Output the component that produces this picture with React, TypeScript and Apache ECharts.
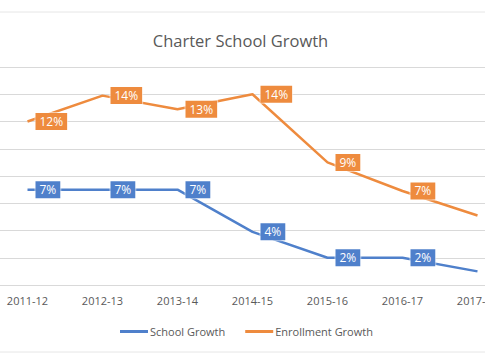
import React, { useEffect, useRef } from "react";
import * as echarts from "echarts";

const categories = ["2011-12", "2012-13", "2013-14", "2014-15", "2015-16", "2016-17", "2017-18"];
const schoolGrowth = [7.0, 7.0, 7.0, 3.9, 2.0, 2.0, 1.0];
const enrollmentGrowth = [12.0, 13.9, 12.9, 14.0, 9.0, 6.9, 5.1];
const seriesNames = ["School Growth", "Enrollment Growth"];
const blue = "#4F80CB";
const orange = "#EE8B3E";
const font = "'Open Sans', sans-serif";
const OFFSET = 10; // inner chart is shifted left so the plot area is cropped as in the reference

function makeLabel(color: string) {
  return {
    show: true,
    position: "right",
    distance: 8,
    formatter: (p: any) => Math.round(p.value) + "%",
    color: "#ffffff",
    fontSize: 12,
    fontFamily: font,
    backgroundColor: color,
    borderColor: "rgba(255,255,255,0.55)",
    borderWidth: 1,
    padding: [3, 4, 2, 4],
  };
}

export default function App() {
  const ref = useRef<HTMLDivElement>(null);
  useEffect(() => {
    if (!ref.current) return;
    const chart = echarts.init(ref.current, null, { renderer: "svg" });
    chart.setOption({
      animation: false,
      backgroundColor: "#ffffff",
      legend: {
        data: seriesNames,
        top: 326,
        left: 120 + OFFSET,
        padding: 0,
        icon: "rect",
        itemWidth: 28,
        itemHeight: 3,
        itemGap: 20,
        textStyle: { color: "#595959", fontSize: 11, fontFamily: font, padding: [0, 0, 0, -3] },
      },
      grid: { left: 0, right: 0, top: 67, bottom: 75 },
      xAxis: {
        type: "category",
        data: categories,
        boundaryGap: true,
        axisLine: { lineStyle: { color: "#d9d9d9", width: 1 } },
        axisTick: { show: false },
        axisLabel: { color: "#595959", fontSize: 11, fontFamily: font, margin: 10 },
      },
      yAxis: {
        type: "value",
        min: 0,
        max: 16,
        interval: 2,
        axisLabel: { show: false },
        axisLine: { show: false },
        axisTick: { show: false },
        splitLine: { lineStyle: { color: "#d9d9d9", width: 1 } },
      },
      graphic: [
        { type: "line", shape: { x1: 0, y1: 12, x2: 525, y2: 12 }, style: { stroke: "#e6e6e6", lineWidth: 1 } },
        { type: "line", shape: { x1: 0, y1: 352, x2: 525, y2: 352 }, style: { stroke: "#e6e6e6", lineWidth: 1 } },
        {
          type: "text",
          x: 240.5 + OFFSET,
          y: 40,
          style: {
            text: "Charter School Growth",
            fill: "#595959",
            fontSize: 16.5,
            fontFamily: font,
            textAlign: "center",
            textVerticalAlign: "middle",
          },
        },
      ],
      series: [
        {
          name: seriesNames[0],
          type: "line",
          data: schoolGrowth,
          color: blue,
          showSymbol: true,
          symbol: "circle",
          symbolSize: 0,
          lineStyle: { color: blue, width: 2.5 },
          label: makeLabel(blue),
          z: 3,
        },
        {
          name: seriesNames[1],
          type: "line",
          data: enrollmentGrowth,
          color: orange,
          showSymbol: true,
          symbol: "circle",
          symbolSize: 0,
          lineStyle: { color: orange, width: 2.5 },
          label: makeLabel(orange),
          z: 3,
        },
      ],
    });
    return () => chart.dispose();
  }, []);
  return (
    <div style={{ position: "fixed", left: 0, top: 0, width: 485, height: 360, overflow: "hidden", background: "#fff" }}>
      <div
        ref={ref}
        style={{ position: "absolute", left: -OFFSET, top: 0, width: 525, height: 360 }}
      />
    </div>
  );
}
